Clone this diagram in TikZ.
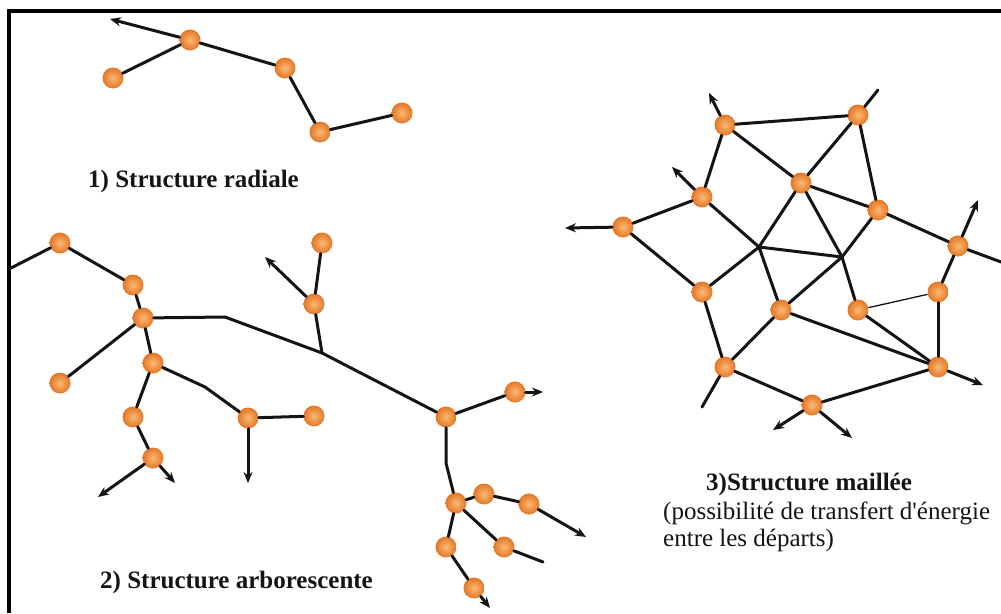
\documentclass[tikz,border=0pt]{standalone}
\usepackage{fontspec}
\setmainfont{Liberation Serif}
\usetikzlibrary{arrows.meta}
\definecolor{ballin}{RGB}{250,185,115}
\definecolor{ballout}{RGB}{228,118,38}
\definecolor{ink}{RGB}{20,20,20}
\tikzset{
  ball/.style={circle, minimum size=21pt, inner sep=0pt, shading=radial, inner color=ballin, outer color=ballout},
  wire/.style={draw=ink, line width=3pt, line cap=round, line join=round},
  thinwire/.style={draw=ink, line width=1.3pt},
  arr/.style={wire, -{Stealth[length=11pt,width=9pt]}},
  lbl/.style={anchor=base west, inner sep=0pt, text=ink, font=\fontsize{25}{27}\selectfont},
  blbl/.style={lbl, font=\fontsize{25}{27}\selectfont\bfseries},
}
\begin{document}
\begin{tikzpicture}[x=1pt,y=-1pt]
\useasboundingbox (0,0) rectangle (1001,613);
% frame
\draw[line width=4pt, draw=black] (1001,11) -- (9,11) -- (9,613);

% ---------- 1) radial ----------
\node[ball] (a1) at (190,40) {};
\node[ball] (a2) at (113,78) {};
\node[ball] (a3) at (285,68) {};
\node[ball] (a4) at (320,132) {};
\node[ball] (a5) at (402,113) {};
\coordinate (a0) at (110,19);
\draw[arr] (a1) -- (a0);
\draw[wire] (a1) -- (a2);
\draw[wire] (a1) -- (a3);
\draw[wire] (a3) -- (a4);
\draw[wire] (a4) -- (a5);
\node[blbl] (l1) at (88,187) {1) Structure radiale};

% ---------- 2) tree ----------
\node[ball] (t1) at (60,243) {};
\node[ball] (t2) at (133,285) {};
\node[ball] (t3) at (143,318) {};
\node[ball] (t4) at (60,383) {};
\node[ball] (t5) at (153,363) {};
\node[ball] (t6) at (133,417) {};
\node[ball] (t7) at (153,458) {};
\node[ball] (t8) at (248,418) {};
\node[ball] (t9) at (314,416) {};
\node[ball] (t10) at (322,243) {};
\node[ball] (t11) at (314,304) {};
\node[ball] (t12) at (446,417) {};
\node[ball] (t13) at (515,392) {};
\node[ball] (t14) at (456,503) {};
\node[ball] (t15) at (484,494) {};
\node[ball] (t16) at (529,504) {};
\node[ball] (t17) at (446,547) {};
\node[ball] (t18) at (504,547) {};
\node[ball] (t19) at (474,588) {};
\coordinate (e1) at (11,268);
\coordinate (b1) at (225,317);
\coordinate (j1) at (322,353);
\coordinate (b2) at (205,387);
\coordinate (b3) at (446,463);
\coordinate (r1) at (265,257);
\coordinate (r2) at (98,497);
\coordinate (r3) at (175,483);
\coordinate (r4) at (248,483);
\coordinate (r5) at (543,392);
\coordinate (r6) at (586,537);
\coordinate (r7) at (543,562);
\coordinate (r8) at (490,608);
\draw[wire] (t1) -- (e1);
\draw[wire] (t1) -- (t2);
\draw[wire] (t2) -- (t3);
\draw[wire] (t3) -- (t4);
\draw[wire] (t3) -- (t5);
\draw[wire] (t3) -- (b1) -- (j1) -- (t12);
\draw[wire] (t10) -- (t11);
\draw[wire] (t11) -- (j1);
\draw[arr] (t11) -- (r1);
\draw[wire] (t5) -- (t6);
\draw[wire] (t6) -- (t7);
\draw[arr] (t7) -- (r2);
\draw[arr] (t7) -- (r3);
\draw[wire] (t5) -- (b2) -- (t8);
\draw[wire] (t8) -- (t9);
\draw[arr] (t8) -- (r4);
\draw[wire] (t12) -- (t13);
\draw[arr] (t13) -- (r5);
\draw[wire] (t12) -- (b3) -- (t14);
\draw[wire] (t14) -- (t15);
\draw[wire] (t15) -- (t16);
\draw[arr] (t16) -- (r6);
\draw[wire] (t14) -- (t17);
\draw[wire] (t14) -- (t18);
\draw[wire] (t18) -- (r7);
\draw[wire] (t17) -- (t19);
\draw[arr] (t19) -- (r8);
\node[blbl] (l2) at (100,588) {2) Structure arborescente};

% ---------- 3) mesh ----------
\node[ball] (m1) at (725,125) {};
\node[ball] (m2) at (858,115) {};
\node[ball] (m3) at (702,197) {};
\node[ball] (m4) at (801,183) {};
\node[ball] (m5) at (878,210) {};
\node[ball] (m6) at (623,227) {};
\node[ball] (m7) at (958,246) {};
\node[ball] (m8) at (702,292) {};
\node[ball] (m9) at (781,310) {};
\node[ball] (m10) at (858,310) {};
\node[ball] (m11) at (938,292) {};
\node[ball] (m12) at (725,367) {};
\node[ball] (m13) at (938,367) {};
\node[ball] (m14) at (812,405) {};
\coordinate (x1) at (759,247);
\coordinate (x2) at (842,257);
\coordinate (q1) at (709,93);
\coordinate (q2) at (878,90);
\coordinate (q3) at (672,167);
\coordinate (q4) at (565,228);
\coordinate (q5) at (978,200);
\coordinate (q6) at (1001,262);
\coordinate (q7) at (702,407);
\coordinate (q8) at (983,385);
\coordinate (q9) at (773,430);
\coordinate (q10) at (852,438);
\draw[wire] (m1) -- (m2);
\draw[wire] (m1) -- (m3);
\draw[wire] (m1) -- (m4);
\draw[arr] (m1) -- (q1);
\draw[wire] (m2) -- (m4);
\draw[wire] (m2) -- (m5);
\draw[wire] (m2) -- (q2);
\draw[wire] (m3) -- (m6);
\draw[arr] (m3) -- (q3);
\draw[arr] (m6) -- (q4);
\draw[wire] (m6) -- (m8);
\draw[wire] (m3) -- (x1);
\draw[wire] (m4) -- (x1);
\draw[wire] (x1) -- (m8);
\draw[wire] (x1) -- (m9);
\draw[wire] (x1) -- (x2);
\draw[wire] (m4) -- (x2);
\draw[wire] (m5) -- (x2);
\draw[wire] (x2) -- (m9);
\draw[wire] (x2) -- (m10);
\draw[wire] (m4) -- (m5);
\draw[wire] (m5) -- (m7);
\draw[arr] (m7) -- (q5);
\draw[wire] (m7) -- (q6);
\draw[wire] (m7) -- (m11);
\draw[thinwire] (m10) -- (m11);
\draw[wire] (m11) -- (m13);
\draw[wire] (m10) -- (m13);
\draw[wire] (m9) -- (m13);
\draw[wire] (m9) -- (m12);
\draw[wire] (m8) -- (m12);
\draw[wire] (m12) -- (q7);
\draw[wire] (m12) -- (m14);
\draw[wire] (m14) -- (m13);
\draw[arr] (m13) -- (q8);
\draw[arr] (m14) -- (q9);
\draw[arr] (m14) -- (q10);
\node[blbl] (l3) at (706,490) {3)Structure maillée};
\node[lbl] (l4) at (663,519) {(possibilité de transfert d\textquotesingle énergie};
\node[lbl] (l5) at (663,546) {entre les départs)};
\end{tikzpicture}
\end{document}
